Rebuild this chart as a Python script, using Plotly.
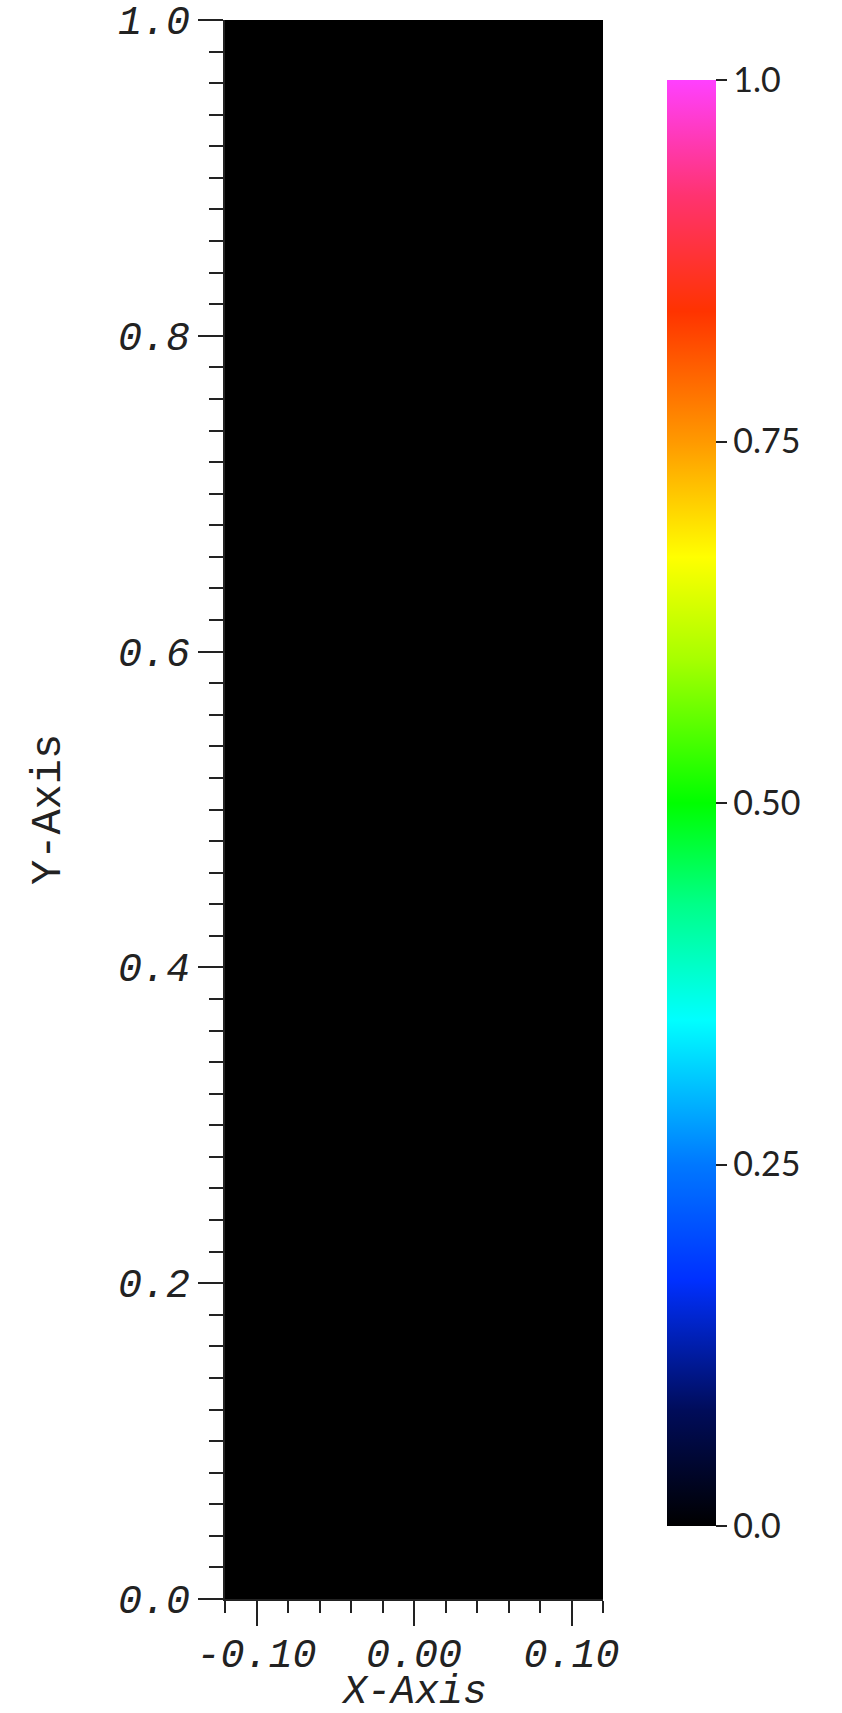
import numpy as np
import plotly.graph_objects as go

# Data: field values on the domain (all zero -> black)
x_vals = [-0.12, -0.06, 0.0, 0.06, 0.12]
y_vals = [0.0, 0.25, 0.5, 0.75, 1.0]
z_vals = [[0.0] * len(x_vals) for _ in y_vals]

cbar_tickvals = [0.0, 0.25, 0.5, 0.75, 1.0]
cbar_ticktext = ["0.0", "0.25", "0.50", "0.75", "1.0"]
y_tickvals = [0.0, 0.2, 0.4, 0.6, 0.8, 1.0]
y_ticktext = ["0.0", "0.2", "0.4", "0.6", "0.8", "1.0"]
x_tickvals = [-0.10, 0.0, 0.10]
x_ticktext = ["-0.10", "0.00", "0.10"]

colorscale = [
    [0.00, "#000000"],
    [0.08, "#000c5a"],
    [0.17, "#0030ff"],
    [0.25, "#0078ff"],
    [0.35, "#00ffff"],
    [0.43, "#00ff88"],
    [0.50, "#00ff00"],
    [0.60, "#a8ff00"],
    [0.67, "#ffff00"],
    [0.75, "#ff9900"],
    [0.84, "#ff3300"],
    [0.92, "#ff3370"],
    [1.00, "#ff40ff"],
]

W, H = 842, 1713
L = 225
T = 20
B = H - 1599
R = W - 603
pw = W - L - R
ph = H - T - B
bottom_px = H - B  # figure y of plot bottom

fig = go.Figure(
    go.Heatmap(
        x=x_vals, y=y_vals, z=z_vals,
        zmin=0, zmax=1, colorscale=colorscale,
        zsmooth="best",
        colorbar=dict(
            thicknessmode="pixels", thickness=49,
            lenmode="pixels", len=1446,
            x=(667 - L) / pw, xanchor="left", xpad=0,
            y=(bottom_px - 803) / ph, yanchor="middle", ypad=0,
            outlinewidth=0,
            tickmode="array", tickvals=cbar_tickvals, ticktext=cbar_ticktext,
            ticks="outside", ticklen=11, tickwidth=2, tickcolor="#222",
            tickfont=dict(family="Lato", size=34, color="#222"),
        ),
        hoverinfo="skip",
    )
)

axis_font = dict(family="Liberation Mono", size=40, color="#222", style="italic")

fig.update_layout(
    width=W, height=H, autosize=False,
    margin=dict(l=L, r=R, t=T, b=B, autoexpand=False),
    paper_bgcolor="white", plot_bgcolor="black",
    xaxis=dict(
        range=[-0.12, 0.12], showgrid=False, zeroline=False, automargin=False,
        showline=True, linecolor="#222", linewidth=2,
        tickmode="array", tickvals=x_tickvals, ticktext=x_ticktext,
        ticks="outside", ticklen=25, tickwidth=2, tickcolor="#222",
        tickfont=axis_font, ticklabelstandoff=-7, ticklabeloverflow="allow",
        minor=dict(dtick=0.02, tick0=0, ticks="outside", ticklen=12,
                   tickwidth=2, tickcolor="#222", showgrid=False),
    ),
    yaxis=dict(
        range=[0, 1], showgrid=False, zeroline=False, automargin=False,
        showline=True, linecolor="#222", linewidth=2,
        tickmode="array", tickvals=y_tickvals, ticktext=y_ticktext,
        ticks="outside", ticklen=25, tickwidth=2, tickcolor="#222",
        tickfont=axis_font, ticklabeloverflow="allow",
        minor=dict(dtick=0.02, tick0=0, ticks="outside", ticklen=14,
                   tickwidth=2, tickcolor="#222", showgrid=False),
    ),
    annotations=[
        dict(text="X-Axis", xref="paper", yref="paper",
             x=(414 - L) / pw, y=-(1692 - bottom_px) / ph,
             xanchor="center", yanchor="middle", showarrow=False,
             font=dict(family="Liberation Mono", size=40, color="#222",
                       style="italic")),
        dict(text="Y-Axis", xref="paper", yref="paper",
             x=(49 - L) / pw, y=(bottom_px - 810) / ph,
             textangle=-90,
             xanchor="center", yanchor="middle", showarrow=False,
             font=dict(family="Liberation Mono", size=42, color="#222")),
    ],
)

# remove the browser's default 8px body margin so the figure fills the window
fig.write_html("out.html",
               config={"displayModeBar": False},
               post_script="document.body.style.margin='0';"
                           "document.body.style.overflow='hidden';")
